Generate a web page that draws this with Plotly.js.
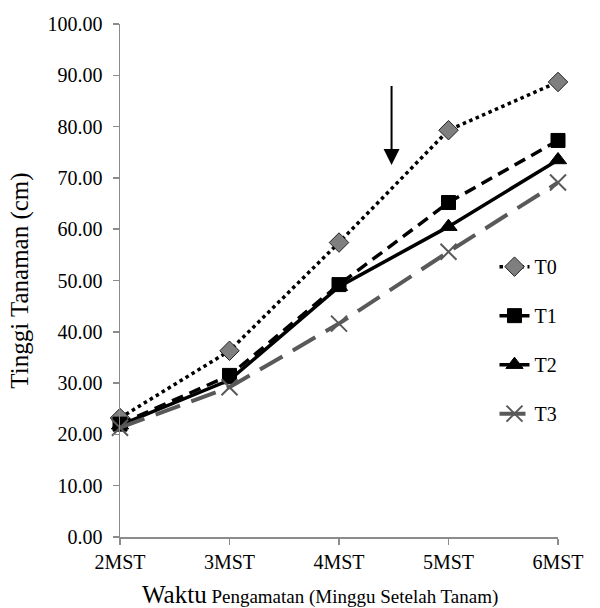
<!DOCTYPE html>
<html>
<head>
<meta charset="utf-8">
<script src="https://cdn.plot.ly/plotly-3.0.1.min.js"></script>
<style>
html,body{margin:0;padding:0;background:#fff;}
#bar{position:absolute;left:0;top:0;width:600px;height:5px;background:#00B050;}
#chart{width:600px;height:608px;}
</style>
</head>
<body>
<div id="bar"></div>
<div id="chart"></div>
<script>
const categories = ['2MST','3MST','4MST','5MST','6MST'];
const seriesNames = ['T0','T1','T2','T3'];
const t0 = [23.2, 36.3, 57.4, 79.3, 88.7];
const t1 = [22.0, 31.5, 49.2, 65.2, 77.3];
const t2 = [21.8, 30.6, 48.8, 60.5, 73.5];
const t3 = [21.3, 29.2, 41.6, 55.6, 69.1];
const yTicks = [0,10,20,30,40,50,60,70,80,90,100];
const xTitle = '<span style="font-size:25px">Waktu</span> Pengamatan (Minggu Setelah Tanam)';
const yTitle = 'Tinggi Tanaman (cm)';

const serif = 'Times New Roman, Liberation Serif, DejaVu Serif, serif';

const traces = [
  {x: categories, y: t0, name: seriesNames[0], mode: 'lines+markers', legendgroup:'a',
   line:{color:'#000', width:3.5, dash:'dot'},
   marker:{symbol:'diamond', size:15, color:'#7f7f7f', line:{color:'#222', width:1}}},
  {x: categories, y: t1, name: seriesNames[1], mode: 'lines+markers', legendgroup:'b',
   line:{color:'#000', width:3.5, dash:'12px,7px'},
   marker:{symbol:'square', size:14, color:'#000', line:{color:'#000', width:1}}},
  {x: categories, y: t2, name: seriesNames[2], mode: 'lines+markers', legendgroup:'c',
   line:{color:'#000', width:3.5, dash:'solid'},
   marker:{symbol:'triangle-up', size:15, color:'#000', line:{color:'#000', width:1}}},
  {x: categories, y: t3, name: seriesNames[3], mode: 'lines+markers', legendgroup:'d',
   line:{color:'#595959', width:4, dash:'26px,12px'},
   marker:{symbol:'x-thin-open', size:16, color:'#595959', line:{color:'#595959', width:2}}}
].map(t => Object.assign(t, {cliponaxis:false}));

const layout = {
  width:600, height:608,
  margin:{l:120, r:42, t:24, b:71},
  paper_bgcolor:'#fff', plot_bgcolor:'#fff',
  font:{family:serif, color:'#000', size:20},
  showlegend:true,
  legend:{x:0.855, y:0.565, xanchor:'left', yanchor:'top', bgcolor:'rgba(0,0,0,0)',
          font:{family:serif, size:20, color:'#000'}, tracegroupgap:20},
  xaxis:{type:'category', range:[0,4], showgrid:false, zeroline:false,
         showline:true, linecolor:'#8c8c8c', linewidth:1.5,
         ticks:'outside', ticklen:6, tickcolor:'#8c8c8c', tickwidth:1.5,
         tickfont:{family:serif, size:20, color:'#000'}},
  yaxis:{range:[0,100], tickvals:yTicks, tickformat:'.2f', showgrid:false, zeroline:false,
         showline:true, linecolor:'#8c8c8c', linewidth:1.5,
         ticks:'outside', ticklen:6, tickcolor:'#8c8c8c', tickwidth:1.5, ticklabelstandoff:6,
         tickfont:{family:serif, size:20, color:'#000'},
         title:{text:yTitle, font:{family:serif, size:25, color:'#000'}, standoff:12}},
  annotations:[
    {x:2.48, y:72.5, ax:2.48, ay:88.2, xref:'x', yref:'y', axref:'x', ayref:'y',
     showarrow:true, arrowhead:2, arrowsize:1.6, arrowwidth:2, arrowcolor:'#000', text:''},
    {x:0.457, y:-0.113, xref:'paper', yref:'paper', xanchor:'center', yanchor:'middle',
     showarrow:false, text:xTitle, font:{family:serif, size:19, color:'#000'}}
  ]
};

Plotly.newPlot('chart', traces, layout, {displayModeBar:false, staticPlot:true});
</script>
</body>
</html>
